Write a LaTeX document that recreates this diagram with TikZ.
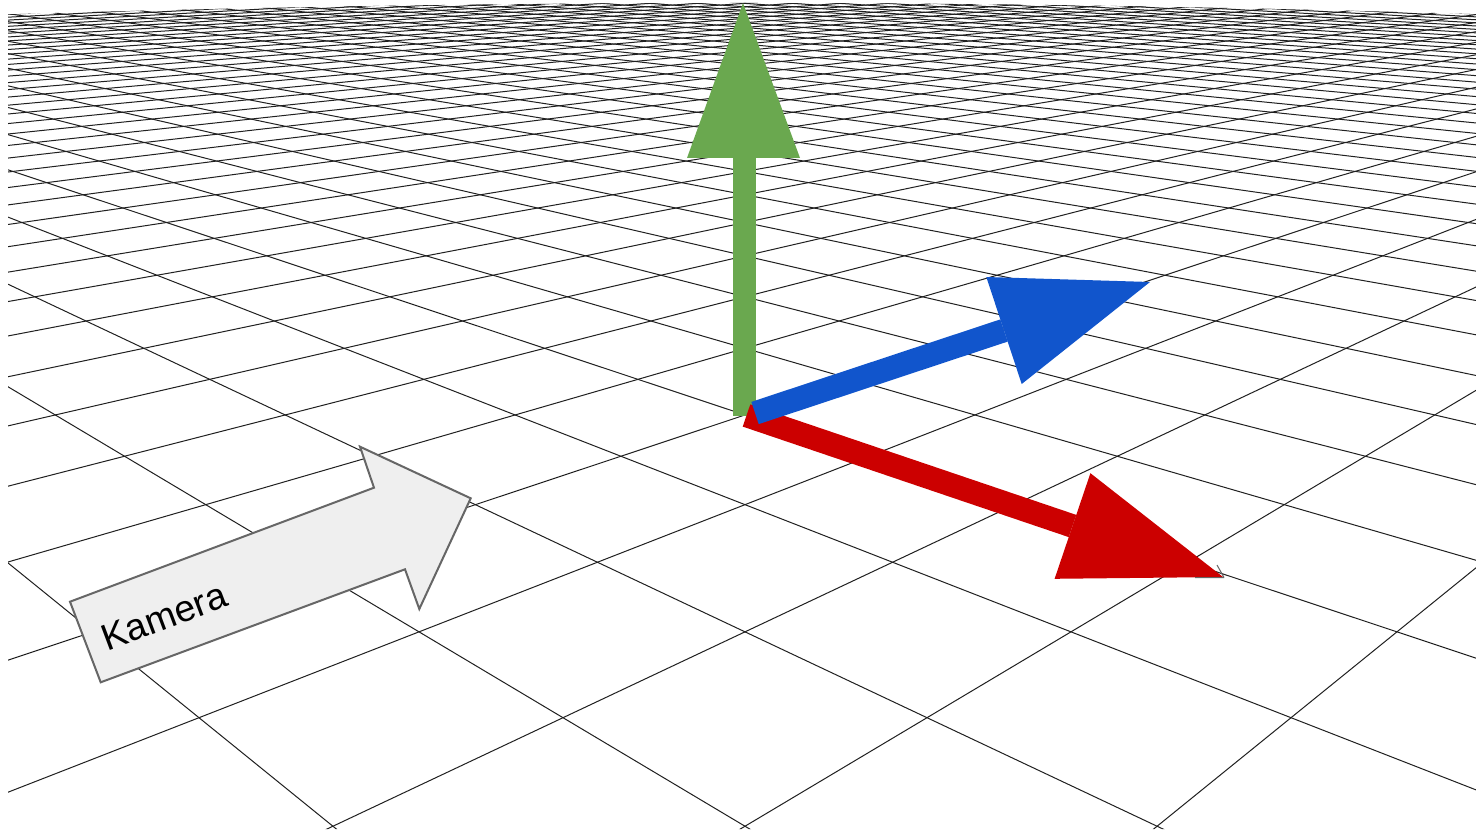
\documentclass[tikz,border=0pt]{standalone}
\usepackage{fontspec}
\setmainfont{Liberation Sans}
\definecolor{gridc}{HTML}{202020}
\definecolor{axgreen}{HTML}{6AA84F}
\definecolor{axblue}{HTML}{1155CC}
\definecolor{axred}{HTML}{CC0000}
\definecolor{camfill}{HTML}{EFEFEF}
\definecolor{camline}{HTML}{666666}
\begin{document}
\begin{tikzpicture}[x=0.5pt,y=-0.5pt,
  gridline/.style={line width=0.5pt, draw=gridc},
  campoly/.style={fill=camfill, draw=camline, line width=1pt, line join=miter},
  camtext/.style={rotate=20.6, inner sep=0pt, font=\fontsize{18.6}{21}\selectfont, text=black}]
\useasboundingbox (0,0) rectangle (1476,834);
\fill[white] (0,0) rectangle (1476,834);
% perspective ground grid
\begin{scope}
\clip (8,829) -- plot[domain=8:1476, samples=80] (\x,{-104+107*sqrt(1+((\x-745)/1560)^2)}) -- (1476,829) -- cycle;
\foreach \i in {-46,...,5}{
  \pgfmathsetmacro\a{-3.006+\i*0.443}
  \pgfmathsetmacro\ye{min(835,-104-2305/(\a))}
  \draw[gridline] ({2305+(\a)*94},-10) -- ({2305+(\a)*(\ye+104)},\ye);
}
\foreach \j in {-4,...,46}{
  \pgfmathsetmacro\b{3.006+\j*0.443}
  \pgfmathsetmacro\ye{min(835,-104+2295/(\b))}
  \draw[gridline] ({-815+(\b)*94},-10) -- ({-815+(\b)*(\ye+104)},\ye);
}
\end{scope}
% camera block arrow
\draw[campoly] (70,601.7) -- (374,487.7) -- (360,446.7) -- (470.7,498.3) -- (419.3,609) -- (405,569.3) -- (100.7,682.3) -- cycle;
\node[camtext] (kamera) at (164,616.5) {Kamera};
% green axis
\fill[axgreen] (732.5,416) rectangle (755.5,157);
\fill[axgreen] (687,158) -- (800,158) -- (743,3) -- cycle;
% red axis
\fill[axred] (742.7,426.6) -- (750.3,404.4) -- (1076.3,514.9) -- (1068.7,537.1) -- cycle;
\fill[axred] (1090.4,473.2) -- (1223,577) -- (1054.6,578.8) -- cycle;
\draw[camline, line width=0.5pt] (1195,577.5) -- (1224,577.5) (1217,565) -- (1224,577.5);
% blue axis
\fill[axblue] (751.3,401.9) -- (1000.3,319.4) -- (1007.7,341.6) -- (758.7,424.1) -- cycle;
\fill[axblue] (986.3,277) -- (1150,282) -- (1021.7,384) -- cycle;
\end{tikzpicture}
\end{document}
